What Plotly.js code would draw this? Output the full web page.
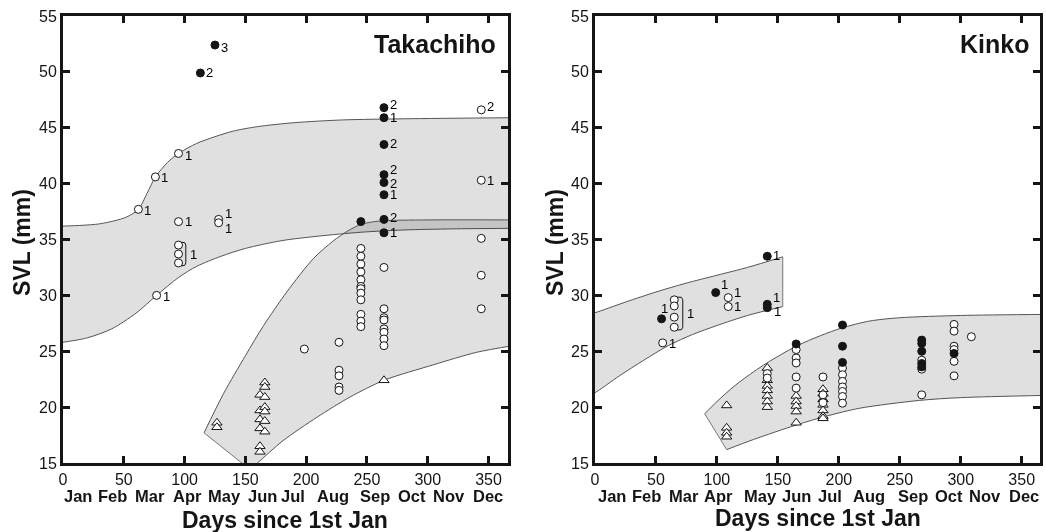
<!DOCTYPE html>
<html>
<head>
<meta charset="utf-8">
<script src="https://cdn.plot.ly/plotly-3.0.1.min.js"></script>
<style>html,body{margin:0;padding:0;background:#fff;}#chart{width:1046px;height:532px;will-change:transform;}</style>
</head>
<body>
<div id="chart"></div>
<script>
// ---------------- DATA ----------------
const months = ['Jan','Feb','Mar','Apr','May','Jun','Jul','Aug','Sep','Oct','Nov','Dec'];
const xTickVals = [0,50,100,150,200,250,300,350];
const yTickVals = [15,20,25,30,35,40,45,50,55];

// Takachiho - open circles
const tkOpenDay = [62,76,95,95,128,128,77,344,344,344,344,344,198.5,
  227,227,227,227,227,
  245,245,245,245,245,245,245,245,245,245,245,245,
  264,264,264,264,264,264,264,264];
const tkOpenSVL = [37.7,40.6,42.7,36.6,36.8,36.5,30.0,46.6,40.3,35.1,31.8,28.8,25.2,
  25.8,23.3,22.8,21.8,21.5,
  34.2,33.5,32.8,32.1,31.4,30.8,30.6,30.2,29.6,28.3,27.7,27.2,
  32.5,28.8,28.0,27.8,27.0,26.7,26.1,25.5];
const tkOpenN = ['1','1','1','1','1','1','1','2','1'];   // labels of the first points
// Takachiho - bracketed open circles
const tkGroupDay = [95,95,95];
const tkGroupSVL = [34.5,33.7,32.9];
const tkGroupN = '1';
// Takachiho - filled circles
const tkFillDay = [125,113,264,264,264,264,264,264,264,264,245];
const tkFillSVL = [52.4,49.9,46.8,45.9,43.5,40.8,40.1,39.0,36.8,35.6,36.6];
const tkFillN = ['3','2','2','1','2','2','2','1','2','1'];
// Takachiho - triangles
const tkTriDay = [126.6,126.6,162,162,162,162,162,162,166,166,166,166,166,166,166,264];
const tkTriSVL = [18.6,18.2,21.1,19.7,18.9,18.1,16.5,16.0,22.2,21.8,20.9,20.0,19.6,18.75,17.8,22.4];

// Takachiho bands (edges)
const tkAdultUpDay = [-3,0,30,52,62,69,76,86,95,110,125,140,160,190,230,280,370];
const tkAdultUpSVL = [36.2,36.2,36.4,37.0,37.7,39.1,40.6,41.9,42.7,43.6,44.2,44.7,45.1,45.45,45.7,45.8,45.9];
const tkAdultLoDay = [-3,0,20,40,60,77,95,110,130,150,180,210,245,280,320,370];
const tkAdultLoSVL = [25.75,25.8,26.2,27.0,28.4,30.0,31.6,32.6,33.5,34.2,34.9,35.3,35.65,35.85,35.95,36.0];
const tkJuvUpDay = [116,132,150,165,184,206,222,234,245,260,300,370];
const tkJuvUpSVL = [17.7,21.2,24.6,27.3,30.3,33.3,34.85,35.75,36.35,36.65,36.75,36.75];
const tkJuvLoDay = [154,160,181,209,236,264,305,340,370];
const tkJuvLoSVL = [14.4,15.0,17.0,19.1,20.9,22.4,23.8,24.9,25.5];

// Kinko - open circles
const kkOpenDay = [55.5,109.3,109.3,141.3,141.3,
  165,165,165,165,165,187,187,187,
  203,203,203,203,203,203,203,268,268,268,
  294.5,294.5,294.5,294.5,294.5,294.5,308.7];
const kkOpenSVL = [25.75,29.8,29.0,23.0,22.6,
  25.15,24.4,23.95,22.7,21.7,22.7,21.1,20.4,
  23.5,22.9,22.3,21.8,21.4,20.95,20.35,24.2,23.4,21.1,
  27.4,26.8,25.45,25.15,24.1,22.8,26.3];
const kkOpenN = ['1','1','1'];
// Kinko - bracketed open circles
const kkGroupDay = [65,65,65,65];
const kkGroupSVL = [29.6,29.05,28.05,27.15];
const kkGroupN = '1';
// Kinko - filled circles
const kkFillDay = [54.6,99,141.3,141.3,141.3,165,203,203,203,268,268,268,268,268,294.5];
const kkFillSVL = [27.9,30.25,33.5,29.2,28.9,25.65,27.35,25.45,24.0,26.0,25.7,25.0,23.9,23.6,24.8];
const kkFillN = ['1','1','1','1','1'];
// Kinko - triangles
const kkTriDay = [108,108,108,108,141.3,141.3,141.3,141.3,141.3,141.3,141.3,165,165,165,165,165,187,187,187,187,187,187,187];
const kkTriSVL = [20.15,18.15,17.7,17.35,23.5,22.4,21.9,21.5,21.0,20.5,20.0,21.0,20.5,20.1,19.6,18.6,21.6,21.2,20.7,20.2,19.7,19.2,19.0];

// Kinko bands
const kkAUpDay = [-3,0,25,50,75,100,125,154];
const kkAUpSVL = [28.4,28.45,29.4,30.3,31.1,31.8,32.5,33.45];
const kkALoDay = [-3,0,20,40,60,80,100,125,154];
const kkALoSVL = [21.2,21.3,22.8,24.2,25.5,26.5,27.3,28.2,29.0];
const kkBUpDay = [90,100,115,130,141,165,185,203,225,250,300,370];
const kkBUpSVL = [19.4,20.5,21.95,23.15,23.95,25.45,26.4,27.1,27.7,28.0,28.2,28.3];
const kkBLoDay = [108,130,165,190,217,266,300,370];
const kkBLoSVL = [16.2,17.1,18.4,19.2,19.9,20.6,20.85,21.05];

// ---------------- STYLE / PLACEMENT (not data) ----------------
// label shifts in px: [xshift, yshift]; negative xshift = centred above
const tkOpenLabShift = [[5,-1],[5,-1],[5,-2],[5,0],[5,6],[5,-6],[5,-1],[5,3],[5,0]];
const tkFillLabShift = [[5,-2],[5,0],[5,3],[5,0],[5,1],[5,5],[5,-1],[5,0],[5,2],[5,0]];
const kkOpenLabShift = [[5,-1],[5,5],[5,0]];
const kkFillLabShift = [[-1,10],[4,8],[5,1],[5,7],[6,-4]];
const tkMonthCenters = [12.3,40.3,71.6,102,133.2,163.7,189.2,222.1,256.6,287.1,317.8,349.6];
const kkMonthCenters = [14,42.5,73,101.5,136,165,192.5,224.5,261,290.5,320,351.8];

const FONT = 'Liberation Sans, Arial, Helvetica, sans-serif';
const INK = '#151515';
const BAND = 'rgba(20,22,30,0.135)';
const EDGE = '#555';

function edge(day, svl, xa, ya, fill) {
  return {x: day, y: svl, xaxis: xa, yaxis: ya, mode: 'lines',
    fill: fill ? 'tonexty' : 'none', fillcolor: BAND,
    line: {color: EDGE, width: 1, shape: 'spline', smoothing: 0.8}, hoverinfo: 'skip', showlegend: false};
}
function band(upD, upS, loD, loS, xa, ya) {
  return [edge(loD, loS, xa, ya, false), edge(upD, upS, xa, ya, true)];
}
function closing(d1, s1, d2, s2, xa, ya) {
  return {x: [d1, d2], y: [s1, s2], xaxis: xa, yaxis: ya, mode: 'lines',
    line: {color: '#777', width: 1}, hoverinfo: 'skip', showlegend: false};
}
function pts(day, svl, kind, xa, ya) {
  const m = kind === 'filled' ? {symbol:'circle', size:8, color:INK, line:{color:INK,width:1}}
          : kind === 'tri' ? {symbol:'triangle-up', size:9, color:'#fff', line:{color:INK,width:1}}
          : {symbol:'circle', size:8, color:'#fff', line:{color:INK,width:1}};
  return {x: day, y: svl, xaxis: xa, yaxis: ya, mode: 'markers', marker: m, cliponaxis: false,
    hoverinfo: 'skip', showlegend: false};
}
const ann = [];
function labels(day, svl, txt, shifts, xa, ya) {
  txt.forEach((t, i) => {
    const s = shifts[i];
    ann.push({xref: xa, yref: ya, x: day[i], y: svl[i], text: t, showarrow: false,
      xanchor: s[0] < 0 ? 'center' : 'left', yanchor: 'middle', xshift: s[0] < 0 ? 3 : s[0], yshift: s[1],
      borderpad: 0, font: {family: FONT, size: 13, color: '#000'}});
  });
}
function bracket(day, svl, label, dx, xa, ya) {
  const hi = Math.max(...svl), lo = Math.min(...svl), d = day[0];
  ann.push({xref: xa, yref: ya, x: d + dx, y: (hi + lo) / 2, text: label, showarrow: false,
    xanchor: 'left', yanchor: 'middle', xshift: 3, borderpad: 0, font: {family: FONT, size: 13, color: '#000'}});
  return {x:[d+dx*0.4, d+dx*0.85, d+dx, d+dx, d+dx*0.85, d+dx*0.4], y:[hi+0.25, hi+0.22, hi, lo, lo-0.22, lo-0.25],
      xaxis: xa, yaxis: ya, mode:'lines', line:{color:INK,width:1}, hoverinfo:'skip', showlegend:false};
}
const last = a => a[a.length - 1];

const traces = [
  ...band(tkAdultUpDay, tkAdultUpSVL, tkAdultLoDay, tkAdultLoSVL, 'x', 'y'),
  ...band(tkJuvUpDay, tkJuvUpSVL, tkJuvLoDay, tkJuvLoSVL, 'x', 'y'),
  closing(tkJuvUpDay[0], tkJuvUpSVL[0], tkJuvLoDay[0], tkJuvLoSVL[0], 'x', 'y'),
  ...band(kkAUpDay, kkAUpSVL, kkALoDay, kkALoSVL, 'x2', 'y2'),
  closing(last(kkAUpDay), last(kkAUpSVL), last(kkALoDay), last(kkALoSVL), 'x2', 'y2'),
  ...band(kkBUpDay, kkBUpSVL, kkBLoDay, kkBLoSVL, 'x2', 'y2'),
  closing(kkBUpDay[0], kkBUpSVL[0], kkBLoDay[0], kkBLoSVL[0], 'x2', 'y2'),
  pts(tkTriDay, tkTriSVL, 'tri', 'x', 'y'),
  pts(tkOpenDay, tkOpenSVL, 'open', 'x', 'y'),
  pts(tkGroupDay, tkGroupSVL, 'open', 'x', 'y'),
  pts(tkFillDay, tkFillSVL, 'filled', 'x', 'y'),
  bracket(tkGroupDay, tkGroupSVL, tkGroupN, 6, 'x', 'y'),
  pts(kkTriDay, kkTriSVL, 'tri', 'x2', 'y2'),
  pts(kkOpenDay, kkOpenSVL, 'open', 'x2', 'y2'),
  pts(kkGroupDay, kkGroupSVL, 'open', 'x2', 'y2'),
  pts(kkFillDay, kkFillSVL, 'filled', 'x2', 'y2'),
  bracket(kkGroupDay, kkGroupSVL, kkGroupN, 7, 'x2', 'y2')
];
labels(tkOpenDay, tkOpenSVL, tkOpenN, tkOpenLabShift, 'x', 'y');
labels(tkFillDay, tkFillSVL, tkFillN, tkFillLabShift, 'x', 'y');
labels(kkOpenDay, kkOpenSVL, kkOpenN, kkOpenLabShift, 'x2', 'y2');
labels(kkFillDay, kkFillSVL, kkFillN, kkFillLabShift, 'x2', 'y2');

const W = 1046, H = 532;
const yDom = [1 - 463/H, 1 - 16/H];
function xax(dom, rng) {
  return {domain: dom, range: rng, tickvals: xTickVals, ticks: 'inside', ticklen: 7, tickwidth: 3,
    tickcolor: INK, showline: true, linewidth: 3, linecolor: INK, mirror: 'allticks',
    showgrid: false, zeroline: false, tickfont: {family: FONT, size: 16, color: INK}, fixedrange: true};
}
function yax(anchor) {
  return {domain: yDom, range: [15,55], tickvals: yTickVals, ticks: 'inside', ticklen: 7, tickwidth: 3,
    tickcolor: INK, showline: true, linewidth: 3, linecolor: INK, mirror: 'allticks', anchor: anchor,
    showgrid: false, zeroline: false, tickfont: {family: FONT, size: 16, color: INK}, fixedrange: true};
}

[['x', tkMonthCenters], ['x2', kkMonthCenters]].forEach(([xa, centers]) => {
  months.forEach((m, i) => ann.push({xref: xa, yref: 'paper', x: centers[i], y: 1 - 496/H,
    text: '<b>' + m + '</b>', showarrow: false, borderpad: 0, font: {family: FONT, size: 16.5, color: INK},
    xanchor: 'center', yanchor: 'middle'}));
});
const titleFont = {family: FONT, size: 23, color: INK};
ann.push({xref:'paper', yref:'paper', x: 285/W, y: 1-520/H, text:'<b>Days since 1st Jan</b>', showarrow:false,
  font:titleFont, xanchor:'center', yanchor:'middle'});
ann.push({xref:'paper', yref:'paper', x: 818/W, y: 1-518/H, text:'<b>Days since 1st Jan</b>', showarrow:false,
  font:titleFont, xanchor:'center', yanchor:'middle'});
ann.push({xref:'paper', yref:'paper', x: 22/W, y: 1-243/H, text:'<b>SVL (mm)</b>', textangle:-90, showarrow:false,
  font:titleFont, xanchor:'center', yanchor:'middle'});
ann.push({xref:'paper', yref:'paper', x: 555/W, y: 1-243/H, text:'<b>SVL (mm)</b>', textangle:-90, showarrow:false,
  font:titleFont, xanchor:'center', yanchor:'middle'});
ann.push({xref:'paper', yref:'paper', x: 498/W, y: 1-44/H, text:'<b>Takachiho</b>', showarrow:false,
  font:{family:FONT,size:25,color:INK}, xanchor:'right', yanchor:'middle'});
ann.push({xref:'paper', yref:'paper', x: 1031/W, y: 1-44/H, text:'<b>Kinko</b>', showarrow:false,
  font:{family:FONT,size:25,color:INK}, xanchor:'right', yanchor:'middle'});

const layout = {
  width: W, height: H, margin: {l:0, r:0, t:0, b:0}, paper_bgcolor: '#fff', plot_bgcolor: '#fff',
  showlegend: false,
  xaxis: Object.assign(xax([63/W, 508/W], [0,366]), {anchor: 'y'}),
  yaxis: yax('x'),
  xaxis2: Object.assign(xax([595/W, 1040/W], [0,365]), {anchor: 'y2'}),
  yaxis2: yax('x2'),
  annotations: ann
};

Plotly.newPlot('chart', traces, layout, {displayModeBar: false, staticPlot: true});
</script>
</body>
</html>
